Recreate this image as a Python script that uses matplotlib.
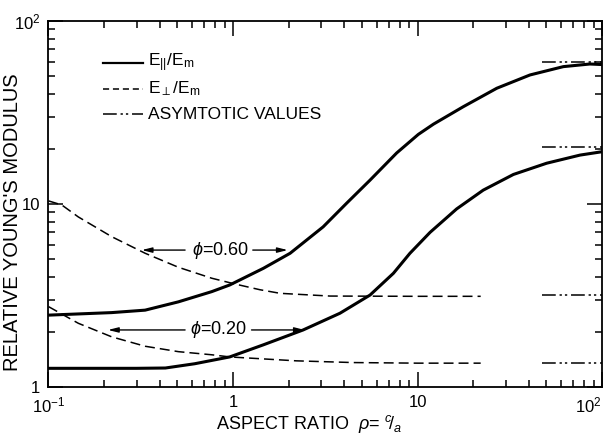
import numpy as np
import matplotlib.pyplot as plt
import matplotlib.transforms as mtransforms
from matplotlib.ticker import FixedLocator, LogLocator, NullFormatter

plt.rcParams['font.family'] = ['Liberation Sans', 'DejaVu Sans']
plt.rcParams['mathtext.fontset'] = 'custom'
plt.rcParams['mathtext.rm'] = 'Liberation Sans'
plt.rcParams['mathtext.it'] = 'Liberation Sans:italic'
plt.rcParams['mathtext.bf'] = 'Liberation Sans:bold'

# longitudinal modulus E_par/E_m vs aspect ratio c/a
rho_par_060 = [0.1, 0.22, 0.334, 0.506, 0.767, 0.96, 1.46, 2.04, 3.08, 4.13, 5.53, 7.71, 10.1, 12.2, 17.7, 26.9, 40.7, 61.7, 86, 100]
e_par_060 = [2.47, 2.55, 2.63, 2.92, 3.32, 3.61, 4.45, 5.38, 7.5, 10.1, 13.5, 19.0, 24.0, 27.3, 34.0, 42.9, 50.7, 56.3, 58.2, 57.8]
rho_par_020 = [0.1, 0.3, 0.43, 0.62, 0.96, 1.46, 2.4, 3.8, 5.53, 7.4, 9.1, 11.7, 16.3, 22.7, 33.1, 50.1, 76, 100]
e_par_020 = [1.265, 1.265, 1.27, 1.34, 1.46, 1.7, 2.05, 2.53, 3.18, 4.18, 5.38, 7.0, 9.4, 11.9, 14.5, 16.7, 18.5, 19.3]

# transverse modulus E_perp/E_m
rho_perp_060 = [0.1, 0.118, 0.145, 0.22, 0.334, 0.506, 0.767, 1.03, 1.4, 1.8, 3.36, 10, 22]
e_perp_060 = [10.4, 9.88, 8.5, 6.63, 5.38, 4.51, 3.93, 3.65, 3.4, 3.25, 3.14, 3.13, 3.13]
rho_perp_020 = [0.1, 0.145, 0.22, 0.334, 0.506, 0.767, 0.96, 2.2, 4.5, 10, 22]
e_perp_020 = [2.75, 2.23, 1.88, 1.67, 1.56, 1.5, 1.46, 1.39, 1.36, 1.35, 1.35]

# limiting values for long fibres
asym_rho = [47, 100]
asym_vals = [60, 20.6, 3.17, 1.35]

fig = plt.figure(figsize=(6.1, 4.37), dpi=100)
ax = fig.add_axes([0.0795, 0.1144, 0.9074, 0.8376])

dash_dot = (0, (9, 2.5, 1.5, 2, 1.5, 2.5))

ax.plot(rho_par_060, e_par_060, color='black', lw=2.2, solid_capstyle='round', solid_joinstyle='round')
ax.plot(rho_par_020, e_par_020, color='black', lw=2.2, solid_capstyle='round', solid_joinstyle='round')
ax.plot(rho_perp_060, e_perp_060, color='black', lw=1.1, dashes=(6.5, 3.3))
ax.plot(rho_perp_020, e_perp_020, color='black', lw=1.1, dashes=(6.5, 3.3))
for v in asym_vals:
    ax.plot(asym_rho, [v, v], color='black', lw=1.1, linestyle=dash_dot)

ax.set_xscale('log')
ax.set_yscale('log')
ax.set_xlim(0.1, 100)
ax.set_ylim(1, 100)

ax.xaxis.set_major_locator(FixedLocator([0.1, 1, 10, 100]))
ax.yaxis.set_major_locator(FixedLocator([1, 10, 100]))
ax.xaxis.set_minor_locator(LogLocator(base=10, subs=np.arange(2, 10)))
ax.yaxis.set_minor_locator(LogLocator(base=10, subs=np.arange(2, 10)))
ax.xaxis.set_minor_formatter(NullFormatter())
ax.yaxis.set_minor_formatter(NullFormatter())
ax.set_xticklabels([r'$10^{-1}$', '1', '10', r'$10^{2}$'], fontsize=12)
ax.set_yticklabels(['1', '10', r'$10^{2}$'], fontsize=12)

# last x label sits inside the frame edge
last = ax.get_xticklabels()[-1]
last.set_horizontalalignment('right')
last.set_transform(last.get_transform() + mtransforms.ScaledTranslation(6 / 72, 0, fig.dpi_scale_trans))

ax.tick_params(which='both', direction='in', top=True, right=True, width=1.1, color='black')
ax.tick_params(which='major', length=11, pad=6)
ax.tick_params(which='minor', length=5)
for s in ax.spines.values():
    s.set_linewidth(1.3)

ax.set_xlabel(r'ASPECT RATIO  $\rho$= $^{c}\!/_{a}$', fontsize=13)
ax.xaxis.set_label_coords(0.47, -0.072)
ax.set_ylabel("RELATIVE YOUNG'S MODULUS", fontsize=14.5)
ax.yaxis.set_label_coords(-0.048, 0.45)

# legend drawn by hand
legend_rows = [(r'$\mathrm{E_{||}/E_m}$', '-', 1.6),
               (r'$\mathrm{E_{\perp}/E_m}$', (0, (4, 2.5)), 1.1),
               ('ASYMTOTIC VALUES', dash_dot, 1.1)]
for i, (lab, ls, lw) in enumerate(legend_rows):
    yf = 0.885 - i * 0.07
    ax.plot([0.099, 0.170], [yf, yf], transform=ax.transAxes, color='black', lw=lw, linestyle=ls)
    ax.text(0.180, yf, lab, transform=ax.transAxes, fontsize=12.5, va='center', ha='left')

# volume fraction labels with arrows
arrow = dict(arrowstyle='-|>,head_length=0.6,head_width=0.15', color='black', lw=1.0, shrinkA=0, shrinkB=0)
ax.text(0.85, 5.6, r'$\phi$=0.60', fontsize=13, ha='center', va='center')
ax.annotate('', xy=(0.32, 5.6), xytext=(0.55, 5.6), arrowprops=arrow)
ax.annotate('', xy=(1.98, 5.6), xytext=(1.28, 5.6), arrowprops=arrow)
ax.text(0.83, 2.05, r'$\phi$=0.20', fontsize=13, ha='center', va='center')
ax.annotate('', xy=(0.21, 2.05), xytext=(0.55, 2.05), arrowprops=arrow)
ax.annotate('', xy=(2.45, 2.05), xytext=(1.26, 2.05), arrowprops=arrow)

fig.savefig('out.png', dpi=100)
